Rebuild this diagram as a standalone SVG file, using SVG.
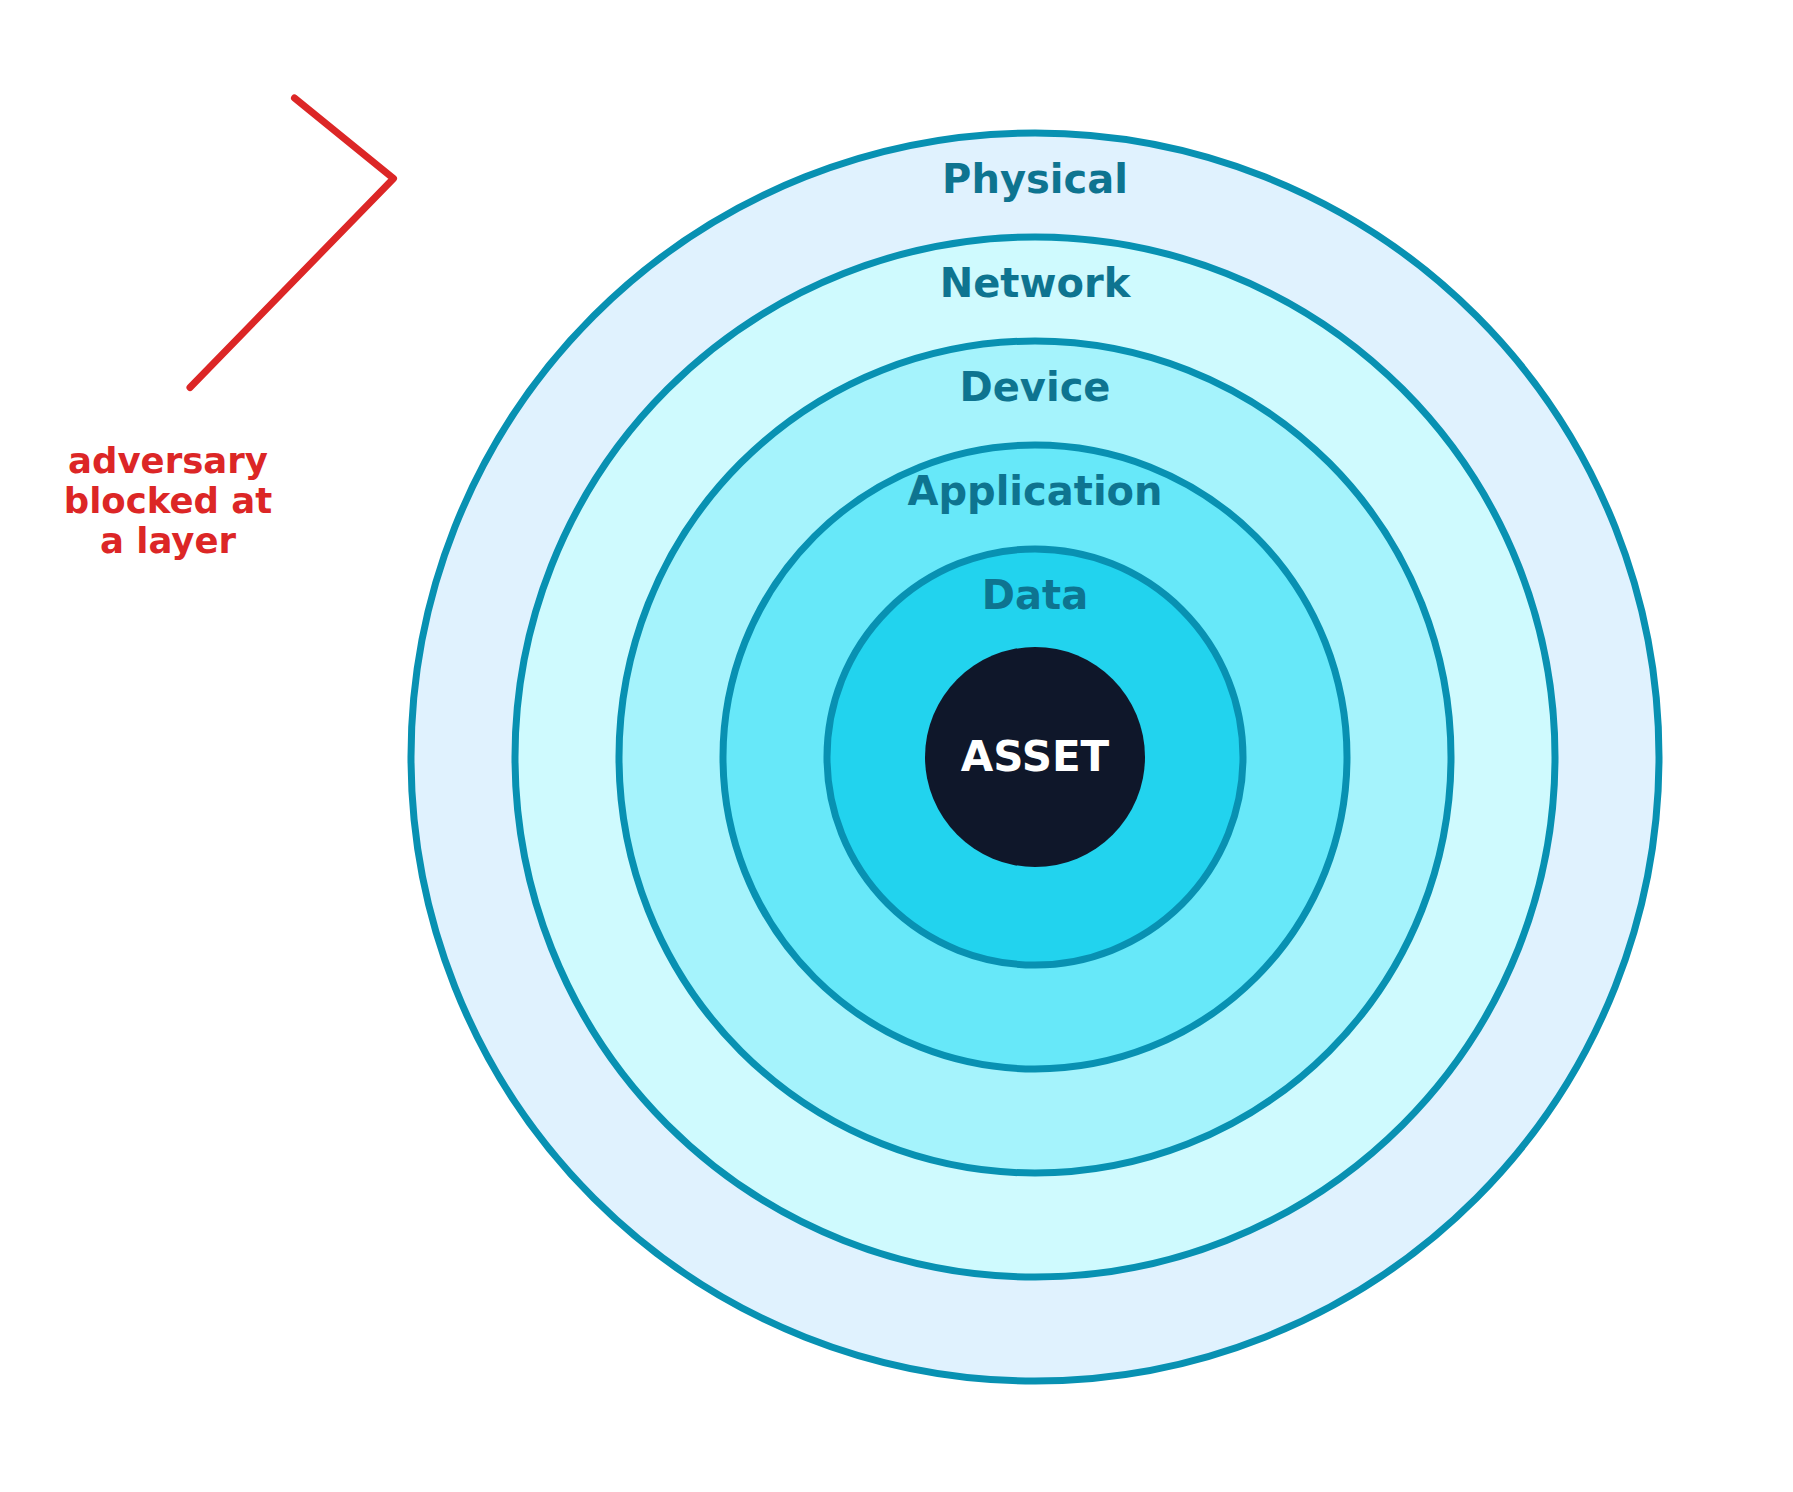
<svg xmlns="http://www.w3.org/2000/svg" width="1793" height="1492" viewBox="0 0 1793 1492">
<style>
.ring{stroke:#0891b2;stroke-width:7}
.lbl{font-family:"DejaVu Sans",sans-serif;font-weight:bold;font-size:40px;fill:#0e7490;text-anchor:middle}
.asset{font-family:"DejaVu Sans",sans-serif;font-weight:bold;font-size:42px;fill:#ffffff;text-anchor:middle}
.adv{font-family:"DejaVu Sans",sans-serif;font-weight:bold;font-size:35.5px;fill:#dc2626;text-anchor:middle}
</style>
<rect width="1793" height="1492" fill="#ffffff"/>
<g id="physical"><circle class="ring" cx="1035" cy="757" r="624" fill="#e0f2fe"/><text class="lbl" x="1035" y="193">Physical</text></g>
<g id="network"><circle class="ring" cx="1035" cy="757" r="520" fill="#cffafe"/><text class="lbl" x="1035" y="297">Network</text></g>
<g id="device"><circle class="ring" cx="1035" cy="757" r="416" fill="#a5f3fc"/><text class="lbl" x="1035" y="401">Device</text></g>
<g id="application"><circle class="ring" cx="1035" cy="757" r="312" fill="#67e8f9"/><text class="lbl" x="1035" y="505">Application</text></g>
<g id="data"><circle class="ring" cx="1035" cy="757" r="208" fill="#22d3ee"/><text class="lbl" x="1035" y="609">Data</text></g>
<g id="asset"><circle cx="1035" cy="757" r="110" fill="#0f172a"/><text class="asset" x="1035" y="771">ASSET</text></g>
<g id="connectors"><polyline points="294.5,98 393.5,178.5 190,387.5" fill="none" stroke="#dc2626" stroke-width="7" stroke-linecap="round" stroke-linejoin="round"/></g>
<g id="adversary-label"><text class="adv" x="168" y="473">adversary</text><text class="adv" x="168" y="513">blocked at</text><text class="adv" x="168" y="553">a layer</text></g>
</svg>
